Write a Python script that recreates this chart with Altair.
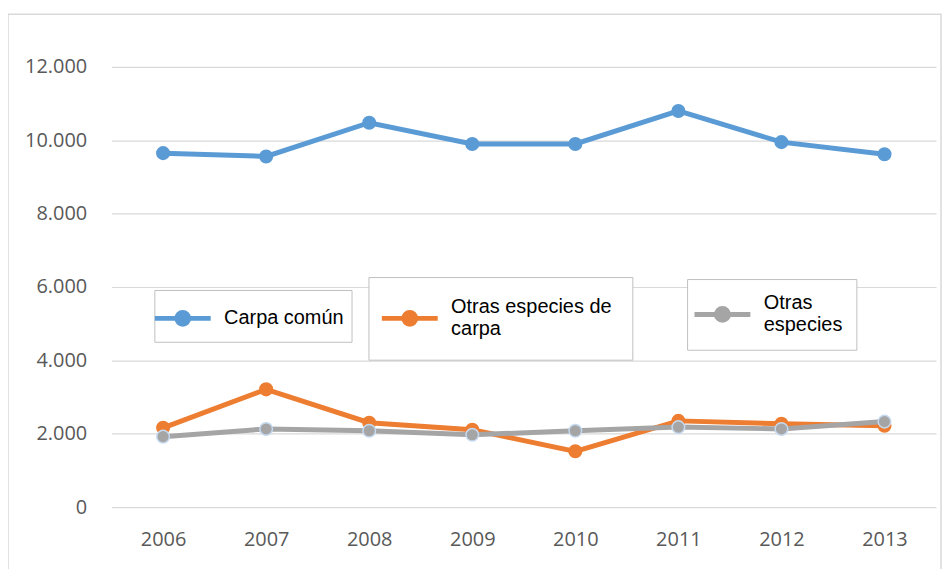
import altair as alt
import pandas as pd

years = ["2006", "2007", "2008", "2009", "2010", "2011", "2012", "2013"]
series_names = ["Carpa común", "Otras especies de carpa", "Otras especies"]
carpa_comun = [9650, 9560, 10480, 9900, 9900, 10800, 9950, 9620]
otras_carpa = [2160, 3210, 2300, 2110, 1520, 2350, 2270, 2220]
otras_especies = [1920, 2130, 2080, 1970, 2080, 2180, 2130, 2330]
values = [carpa_comun, otras_carpa, otras_especies]
y_ticks = [0, 2000, 4000, 6000, 8000, 10000, 12000]

colors = ["#5b9bd5", "#ed7d31", "#a5a5a5"]
marker_strokes = ["#5b9bd5", "#ed7d31", "#c5daf0"]
# legend layout: (x, y, padding, label baseline)
legend_layout = [(43, 224, 7, "middle"), (258, 211, 20, "line-bottom"), (578, 213, 14, "line-bottom")]

FONT = "Open Sans"
LEG_FONT = "Liberation Sans Narrow, Liberation Sans"
SYMBOL = "M-1.5,0L1.5,0M0.32,0A0.32,0.32,0,1,1,-0.32,0A0.32,0.32,0,1,1,0.32,0"

x_axis = alt.Axis(title=None, labelAngle=0, domain=False, ticks=False, grid=False,
                  labelFont=FONT, labelFontSize=20, labelColor="#595959", labelPadding=23)
y_axis = alt.Axis(title=None, values=y_ticks, domain=False, ticks=False, grid=True,
                  gridColor="#d9d9d9", gridWidth=1.2,
                  labelExpr="replace(format(datum.value, ','), ',', '.')",
                  labelFont=FONT, labelFontSize=20, labelColor="#595959", labelPadding=25)

label_expr = ("datum.label == 'Otras especies de carpa' ? ['Otras especies de', 'carpa'] : "
              "datum.label == 'Otras especies' ? ['Otras', 'especies'] : datum.label")


def series_layer(i):
    name = series_names[i]
    df = pd.DataFrame({"Año": years, "Valor": values[i], "Serie": name})
    lx, ly, pad, base_line = legend_layout[i]
    base = alt.Chart(df).encode(
        x=alt.X("Año:O", scale=alt.Scale(type="point", padding=0.5), axis=x_axis),
        y=alt.Y("Valor:Q", scale=alt.Scale(domain=[0, 12000]), axis=y_axis),
        color=alt.Color(
            "Serie:N",
            scale=alt.Scale(domain=[name], range=[colors[i]]),
            legend=alt.Legend(
                title=None, orient="none", legendX=lx, legendY=ly, direction="horizontal",
                symbolType=SYMBOL, symbolSize=1400, symbolStrokeWidth=5,
                symbolFillColor=colors[i], symbolStrokeColor=colors[i],
                labelFont=LEG_FONT, labelFontSize=20, labelColor="#000000",
                labelExpr=label_expr, labelLimit=400, labelOffset=20,
                labelBaseline=base_line,
                strokeColor="#bfbfbf", fillColor="white", padding=pad,
            ),
        ),
    )
    line = base.mark_line(strokeWidth=5)
    pts = base.mark_circle(size=160, opacity=1, stroke=marker_strokes[i], strokeWidth=1.5)
    return line + pts


frame = alt.Chart(pd.DataFrame({"k": [0]})).mark_rect(
    fill="transparent", stroke="#d9d9d9", strokeWidth=1.5
).encode(
    x=alt.value(-104), x2=alt.value(833), y=alt.value(-53), y2=alt.value(540)
)

chart = alt.layer(frame, series_layer(0), series_layer(1), series_layer(2)).resolve_scale(
    color="independent"
).properties(
    width=828, height=442, autosize="none",
    padding={"left": 104, "top": 58, "right": 6, "bottom": 61},
).configure_view(stroke=None)

chart.save("out.html", embed_options={"renderer": "svg", "actions": False})
